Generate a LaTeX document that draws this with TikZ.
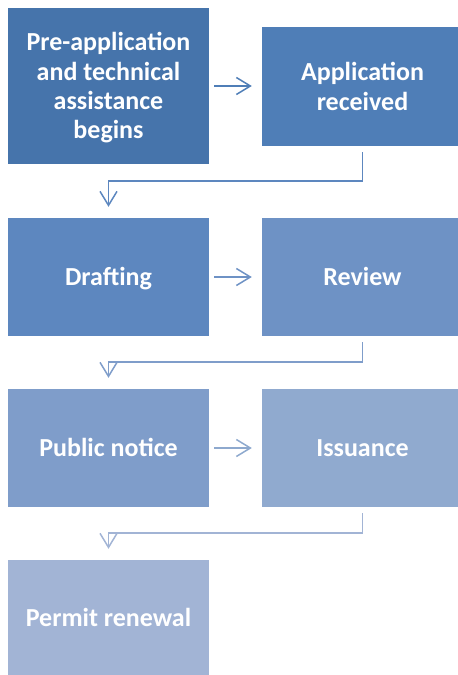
\documentclass[tikz,border=0pt]{standalone}
\usepackage{fontspec}
\setmainfont{Carlito}
\usetikzlibrary{arrows.meta}

\definecolor{stepA}{HTML}{4674AB}
\definecolor{stepB}{HTML}{4F7EB7}
\definecolor{stepC}{HTML}{5D87BF}
\definecolor{stepD}{HTML}{6E92C5}
\definecolor{stepE}{HTML}{7F9DCA}
\definecolor{stepF}{HTML}{90AACF}
\definecolor{stepG}{HTML}{A2B4D5}

\newcommand{\toppad}{\rule{0pt}{26.5pt}}

\begin{document}
\begin{tikzpicture}[x=1pt,y=-1pt,
	stage/.style={rectangle, inner sep=0pt, minimum width=201pt, align=center,
		text=white, font=\fontsize{26}{29.3}\selectfont\bfseries,
		execute at begin node=\toppad, execute at end node=\strut},
	flow/.style={line width=1.5pt, -{Straight Barb[length=14pt,width=17pt,line width=1.5pt]}}]
		
		\useasboundingbox (0,0) rectangle (458,675);
		\clip (0,0) rectangle (458,675);
		
		\node[stage, fill=stepA, minimum height=156pt] (pre) at (108.5,86) {\toppad Pre-application\\and technical\\assistance\\begins};
		\node[stage, fill=stepB, minimum height=119pt] (recv) at (362.5,86.5) {\toppad Application\\received};
		
		\node[stage, fill=stepC, minimum height=118pt] (draft) at (108.5,277) {Drafting};
		\node[stage, fill=stepD, minimum height=118pt] (review) at (362.5,277) {Review};
		
		\node[stage, fill=stepE, minimum height=118pt] (notice) at (108.5,448) {Public notice};
		\node[stage, fill=stepF, minimum height=118pt] (issue) at (362.5,448) {Issuance};
		
		\node[stage, fill=stepG, minimum height=115pt] (renew) at (108.5,617.5) {Permit renewal};
		
		% across
		\draw[flow, color=stepB] ([xshift=5pt]pre.east |- 0,86) -- ([xshift=-10pt]recv.west |- 0,86);
		\draw[flow, color=stepD] ([xshift=5pt]draft.east) -- ([xshift=-10pt]review.west);
		\draw[flow, color=stepF!90!stepE] ([xshift=5pt]notice.east) -- ([xshift=-10pt]issue.west);
		
		% down and back
		\draw[flow, color=stepC] ([yshift=-6pt]recv.south) -- ++(0,29) -| ([yshift=11pt]draft.north);
		\draw[flow, color=stepE] ([yshift=-6pt]review.south) -- ++(0,20) -| ([yshift=11pt]notice.north);
		\draw[flow, color=stepG] ([yshift=-6pt]issue.south) -- ++(0,20) -| ([yshift=11pt]renew.north);
		
\end{tikzpicture}
\end{document}
